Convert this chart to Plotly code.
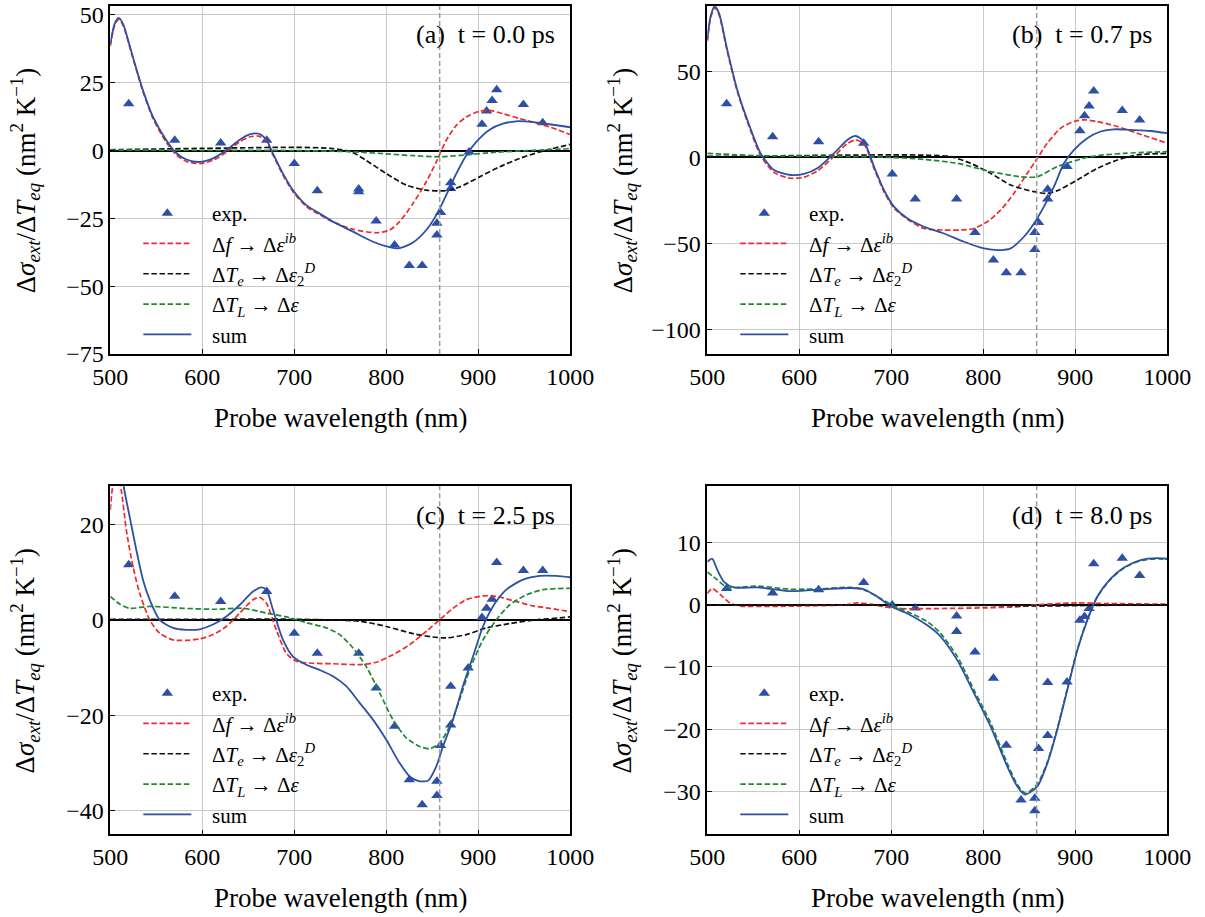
import plotly.graph_objects as go

# ---------------- data ----------------
ref_wavelength = 858

# Panel (a) t = 0.0 ps
a_exp_x = [520, 570, 620, 670, 700, 725, 770, 770, 789, 809, 825, 839, 855, 855, 859, 870, 870, 890, 904, 909, 915, 920, 949, 970]
a_exp_y = [17.3, 3.8, 2.8, 3.8, -4.8, -14.8, -14.2, -15.2, -26.0, -34.8, -42.4, -42.4, -26.8, -31.1, -22.8, -11.9, -14.0, -0.5, 9.7, 14.6, 18.5, 22.4, 17.0, 10.3]
a_sum_x = [500, 504.7, 509, 513.8, 524.6, 535.5, 546.4, 560.9, 571.7, 582.6, 597.1, 611.6, 626.1, 640.6, 651.4, 661.6, 669.6, 676.8, 687.7, 698.6, 713, 727.5, 742, 763.8, 785.5, 803.6, 814.5, 829, 843.5, 854.3, 865.2, 876.1, 887, 897.8, 912.3, 926.8, 941.3, 959.4, 977.5, 1000]
a_sum_y = [39.3, 46.7, 48.9, 46.7, 34.4, 22.2, 12.4, 3.8, -0.9, -3.3, -4.2, -2.9, 0.1, 4.0, 6.0, 6.2, 4.0, -1.1, -8.5, -14.6, -20.1, -23.2, -26.2, -29.9, -33.6, -35.6, -36.0, -33.9, -29.3, -23.8, -16.4, -8.5, -1.7, 3.2, 7.7, 9.9, 10.8, 10.5, 9.7, 8.6]
a_red_x = [500, 504.7, 509, 513.8, 524.6, 535.5, 546.4, 560.9, 571.7, 582.6, 597.1, 611.6, 626.1, 640.6, 651.4, 661.6, 669.6, 676.8, 687.7, 698.6, 713, 727.5, 742, 763.8, 789, 803.6, 814.5, 829, 843.5, 854.3, 865.2, 876.1, 887, 901.4, 912.3, 926.8, 944.9, 959.4, 977.5, 1000]
a_red_y = [38.5, 46.2, 48.4, 46.2, 34.0, 21.8, 11.8, 3.0, -1.6, -4.0, -4.8, -3.6, -0.6, 3.2, 5.0, 5.3, 3.4, -1.6, -9.0, -15.2, -20.6, -23.6, -26.3, -29.0, -30.3, -29.3, -26.2, -19.5, -11.5, -4.2, 3.8, 9.3, 12.4, 14.5, 14.8, 13.6, 11.8, 10.5, 8.7, 5.9]
a_blk_x = [500, 600, 700, 740, 762, 778, 800, 821.7, 843.5, 865.2, 879.7, 901.4, 923.2, 944.9, 966.7, 1000]
a_blk_y = [0.3, 0.8, 1.2, 0.8, -0.5, -3.6, -8.5, -12.7, -14.6, -14.8, -13.4, -9.7, -6.0, -2.9, -0.5, 2.3]
a_grn_x = [500, 600, 700, 760, 800, 830, 858, 880, 920, 960, 1000]
a_grn_y = [0.2, 0.1, 0.0, -0.4, -1.2, -1.9, -2.3, -1.8, -0.6, 0.1, 0.7]

# Panel (b) t = 0.7 ps
b_exp_x = [521, 571, 621, 670, 701, 726, 771, 791, 811, 825, 841, 856, 856, 860, 870, 870, 891, 905, 910, 915, 920, 951, 970]
b_exp_y = [31.1, 12.0, 9.1, 8.2, -9.7, -24.3, -24.3, -43.7, -59.8, -67.2, -67.2, -43.7, -53.6, -37.9, -24.3, -18.6, -5.4, 15.5, 24.1, 29.9, 38.6, 27.2, 21.7]
b_sum_x = [500, 503.6, 508, 512.7, 521.7, 532.6, 543.5, 558, 572.5, 590.6, 605.1, 619.6, 637.7, 652.2, 661.2, 670.3, 681.2, 692, 702.9, 717.4, 735.5, 757.2, 779, 800.7, 818.8, 829.7, 844.2, 855.1, 865.9, 876.8, 887.7, 898.6, 913, 927.5, 942, 960.1, 981.9, 1000]
b_sum_y = [68.4, 82.0, 87.8, 83.9, 62.5, 39.2, 21.8, 2.3, -7.4, -10.3, -9.7, -6.4, 2.3, 10.1, 12.4, 9.1, -5.4, -19.0, -28.7, -35.5, -40.4, -44.3, -49.1, -53.0, -54.0, -53.0, -46.2, -38.5, -28.7, -17.1, -3.5, 4.3, 11.1, 15.0, 16.3, 15.9, 15.3, 14.0]
b_red_x = [500, 503.6, 508, 512.7, 521.7, 532.6, 543.5, 558, 572.5, 590.6, 605.1, 619.6, 637.7, 652.2, 661.2, 670.3, 681.2, 692, 702.9, 717.4, 735.5, 757.2, 775.4, 789.9, 804.3, 818.8, 833.3, 847.8, 858.7, 869.6, 884, 898.6, 909.4, 923.9, 945.7, 967.4, 1000]
b_red_y = [67.5, 81.0, 87.0, 83.0, 61.5, 38.2, 20.8, 1.0, -8.8, -12.2, -11.5, -8.0, 0.5, 8.0, 10.1, 7.8, -6.5, -20.0, -29.5, -36.0, -41.4, -42.3, -42.3, -41.4, -37.5, -30.7, -21.0, -9.3, -0.6, 8.2, 16.9, 20.8, 21.8, 20.8, 17.9, 14.0, 8.2]
b_blk_x = [500, 600, 700, 740, 764.5, 786.2, 808, 829.7, 855.1, 869.6, 880.4, 902.2, 923.9, 945.7, 967.4, 1000]
b_blk_y = [0.5, 1.0, 1.4, 1.2, 0.4, -3.5, -9.3, -16.1, -20.0, -21.0, -19.4, -13.2, -6.4, -1.6, 1.4, 2.3]
b_grn_x = [500, 554, 663, 700, 735.5, 771.7, 808, 840.6, 858.7, 880.4, 916.7, 952.9, 1000]
b_grn_y = [2.3, 1.0, 0.4, -0.1, -1.2, -3.5, -8.3, -11.3, -11.3, -5.4, 0.4, 2.3, 3.3]

# Panel (c) t = 2.5 ps
c_exp_x = [520, 570, 620, 670, 700, 725, 770, 789, 809, 825, 839, 855, 855, 859, 870, 870, 889, 904, 909, 915, 920, 949, 970]
c_exp_y = [11.5, 4.9, 3.8, 5.9, -2.8, -7.0, -7.0, -14.3, -22.3, -33.5, -38.7, -33.8, -36.8, -26.3, -22.0, -13.9, -10.1, 0.5, 2.4, 4.3, 12.0, 10.3, 10.3]
c_sum_x = [500, 505, 510, 514.5, 521, 528.3, 535.5, 542.8, 553.6, 568.1, 582.6, 597.1, 611.6, 626.1, 640.6, 655.1, 664.1, 669.6, 676.8, 687.7, 698.6, 713, 727.5, 742, 756.5, 771, 785.5, 800, 814.5, 825.4, 834.4, 845.3, 854.3, 861.6, 872.5, 883.3, 894.2, 905.1, 915.9, 930.4, 948.6, 966.7, 984.8, 1000]
c_sum_y = [30, 36, 35, 28, 21.6, 14.6, 8.4, 4.2, 0, -1.7, -2.1, -2.0, -1.0, 0.7, 3.1, 5.9, 6.8, 6.3, 2.1, -4.2, -7.7, -9.4, -10.5, -11.8, -13.9, -17.4, -20.9, -25.1, -30.0, -32.8, -33.7, -33.7, -30.7, -26.5, -20.9, -13.9, -7.7, -1.4, 2.8, 6.3, 8.4, 9.2, 9.2, 8.9]
c_red_x = [500, 503, 507, 512, 517.4, 524.6, 531.9, 542.8, 553.6, 568.1, 582.6, 597.1, 611.6, 626.1, 640.6, 655.1, 662.3, 669.6, 680.4, 691.3, 702.2, 720.3, 742, 771, 789, 807.2, 825.4, 843.5, 858, 872.5, 887, 905.1, 919.6, 937.7, 959.4, 977.5, 1000]
c_red_y = [23, 28.5, 31, 27, 18.8, 11.2, 5.6, 0, -2.8, -4.2, -4.3, -4.0, -3.1, -1.4, 1.4, 4.2, 4.7, 3.5, -2.1, -7.0, -8.7, -9.1, -9.2, -9.4, -8.9, -7.3, -5.2, -2.4, 0, 2.4, 4.2, 5.0, 4.9, 4.0, 2.9, 2.4, 1.7]
c_blk_x = [500, 600, 700, 771, 800, 829, 850.7, 865.2, 887, 908.7, 934, 959.4, 1000]
c_blk_y = [0.1, 0.1, 0.1, -0.3, -1.4, -2.9, -3.6, -3.8, -3.1, -1.7, -0.8, -0.1, 0.6]
c_grn_x = [500, 510.1, 521, 542.8, 579, 615.2, 644.2, 669.6, 691.3, 713, 734.8, 749.3, 763.8, 778.3, 792.8, 807.2, 821.7, 836.2, 847.1, 858, 868.8, 879.7, 890.6, 905.1, 919.6, 934, 952.2, 970.3, 1000]
c_grn_y = [4.9, 3.3, 2.4, 2.8, 2.4, 2.2, 2.4, 1.4, 0.6, -0.6, -1.7, -3.1, -5.9, -9.8, -15.3, -20.9, -24.7, -26.5, -27.0, -25.8, -22.3, -16.7, -10.5, -4.2, 0, 3.1, 5.2, 6.3, 6.6]

# Panel (d) t = 8.0 ps
d_exp_x = [521, 571, 621, 670, 701, 726, 771, 771, 791, 811, 825, 841, 856, 856, 860, 870, 870, 891, 905, 910, 915, 920, 951, 970]
d_exp_y = [2.6, 1.9, 2.4, 3.6, -0.05, -0.5, -1.8, -4.3, -7.6, -11.8, -22.6, -31.4, -31.1, -33.1, -23.1, -21.0, -12.5, -12.4, -2.5, -1.9, -0.6, 6.6, 7.5, 4.7]
d_sum_x = [500, 505.4, 510.9, 518.1, 529, 554.3, 590.6, 626.8, 655.8, 670.3, 684.8, 699.3, 717.4, 739.1, 753.6, 771.7, 789.9, 808, 826.1, 837, 845.3, 858.7, 869.6, 880.4, 891.3, 902.2, 913, 923.9, 938.4, 952.9, 971, 989.1, 1000]
d_sum_y = [6.9, 7.4, 5.6, 3.7, 2.8, 2.8, 2.2, 2.5, 2.7, 2.5, 1.3, -0.2, -1.4, -3.3, -5.1, -8.9, -14.2, -19.6, -26.0, -29.2, -30.5, -29.2, -25.5, -20.1, -13.7, -7.3, -2.5, 1.3, 4.2, 6.0, 7.2, 7.5, 7.4]
d_red_x = [500, 505.4, 514.5, 525.4, 536.2, 600, 650, 663, 677.5, 692, 706.5, 750, 800, 840, 858, 880, 902, 935, 1000]
d_red_y = [1.8, 2.6, 1.6, 0.2, -0.2, -0.2, 0.0, 0.3, 0.1, -0.3, -0.6, -0.6, -0.5, -0.3, 0.0, 0.2, 0.3, 0.2, 0.1]
d_blk_x = [500, 700, 800, 860, 920, 1000]
d_blk_y = [0.0, -0.05, -0.1, -0.2, -0.1, 0.0]
d_grn_x = [500, 510.9, 521.7, 554.3, 590.6, 626.8, 655.8, 670.3, 684.8, 699.3, 717.4, 739.1, 753.6, 771.7, 789.9, 808, 826.1, 837, 846, 858.7, 869.6, 880.4, 891.3, 902.2, 913, 923.9, 938.4, 952.9, 971, 989.1, 1000]
d_grn_y = [5.3, 4.0, 2.8, 3.0, 2.5, 2.6, 2.8, 2.4, 1.3, 0.1, -1.1, -2.7, -4.6, -8.3, -13.7, -19.0, -25.5, -28.9, -30.3, -28.8, -25.3, -19.9, -13.5, -7.2, -2.4, 1.3, 4.1, 5.9, 7.1, 7.4, 7.3]

panel_labels = ["(a)\u00a0\u00a0t = 0.0 ps", "(b)\u00a0\u00a0t = 0.7 ps", "(c)\u00a0\u00a0t = 2.5 ps", "(d)\u00a0\u00a0t = 8.0 ps"]
y_ranges = [[-75, 53.3], [-114.4, 88], [-44.9, 28], [-36.9, 19.1]]
y_dticks = [25, 50, 20, 10]
x_ticks = [500, 600, 700, 800, 900, 1000]

PAD = "\u00a0\u00a0\u00a0"
series_names = [PAD + "exp.",
                PAD + "Δ<i>f</i> → Δ<i>ε<sup>ib</sup></i>",
                PAD + "Δ<i>T<sub>e</sub></i> → Δ<i>ε</i><sub>2</sub><sup><i>D</i></sup>",
                PAD + "Δ<i>T<sub>L</sub></i> → Δ<i>ε</i>",
                PAD + "sum"]
x_title = "Probe wavelength (nm)"
y_title = "Δ<i>σ<sub>ext</sub></i>/Δ<i>T<sub>eq</sub></i> (nm<sup>2</sup> K<sup>−1</sup>)"

panels = [
    (a_exp_x, a_exp_y, a_red_x, a_red_y, a_blk_x, a_blk_y, a_grn_x, a_grn_y, a_sum_x, a_sum_y),
    (b_exp_x, b_exp_y, b_red_x, b_red_y, b_blk_x, b_blk_y, b_grn_x, b_grn_y, b_sum_x, b_sum_y),
    (c_exp_x, c_exp_y, c_red_x, c_red_y, c_blk_x, c_blk_y, c_grn_x, c_grn_y, c_sum_x, c_sum_y),
    (d_exp_x, d_exp_y, d_red_x, d_red_y, d_blk_x, d_blk_y, d_grn_x, d_grn_y, d_sum_x, d_sum_y),
]

# ---------------- style ----------------
W, H = 1205, 917
FONT = "Liberation Serif"
BLUE = "#2d4fa5"
RED = "#f02a2a"
BLACK = "#111111"
GREEN = "#1c8a32"
DASH = "5.5px,2.6px"

# pixel boxes of the panels (left, right, top, bottom)
boxes = [(110.3, 570.3, 6, 354), (707.3, 1167.3, 6, 354),
         (110.3, 570.3, 486, 834.3), (707.3, 1167.3, 486, 834.3)]

fig = go.Figure()
layout = dict(width=W, height=H, margin=dict(l=0, r=0, t=0, b=0),
              paper_bgcolor="white", plot_bgcolor="white", showlegend=True)

annotations = []
shapes = []
for i, (ex, ey, rx, ry, kx, ky, gx, gy, sx, sy) in enumerate(panels):
    n = "" if i == 0 else str(i + 1)
    xa, ya = "x" + n, "y" + n
    leg = "legend" + n
    common = dict(xaxis=xa, yaxis=ya, legend=leg)
    fig.add_trace(go.Scatter(x=ex, y=ey, mode="markers", name=series_names[0],
                             marker=dict(symbol="triangle-up", size=10, color=BLUE), **common))
    fig.add_trace(go.Scatter(x=rx, y=ry, mode="lines", name=series_names[1],
                             line=dict(color=RED, width=1.7, dash=DASH, shape="spline", smoothing=0.7), **common))
    fig.add_trace(go.Scatter(x=kx, y=ky, mode="lines", name=series_names[2],
                             line=dict(color=BLACK, width=1.7, dash=DASH, shape="spline", smoothing=0.7), **common))
    fig.add_trace(go.Scatter(x=gx, y=gy, mode="lines", name=series_names[3],
                             line=dict(color=GREEN, width=1.7, dash=DASH, shape="spline", smoothing=0.7), **common))
    fig.add_trace(go.Scatter(x=sx, y=sy, mode="lines", name=series_names[4],
                             line=dict(color=BLUE, width=1.8, shape="spline", smoothing=0.7), **common))

    L, R, T, B = boxes[i]
    xd = [L / W, R / W]
    yd = [1 - B / H, 1 - T / H]
    layout["xaxis" + n] = dict(domain=xd, anchor=ya, range=[500, 1000], tickvals=x_ticks, automargin=False,
                              showline=True, mirror=True, linecolor="black", linewidth=1.6,
                              ticks="inside", ticklen=5, tickwidth=1.3, tickcolor="black",
                              showgrid=True, gridcolor="#c9c9c9", gridwidth=1, zeroline=False,
                              tickfont=dict(size=24, family=FONT, color="black"))
    layout["yaxis" + n] = dict(domain=yd, anchor=xa, range=y_ranges[i], dtick=y_dticks[i], tick0=0,
                              automargin=False,
                              showline=True, mirror=True, linecolor="black", linewidth=1.6,
                              ticks="inside", ticklen=5, tickwidth=1.3, tickcolor="black",
                              showgrid=True, gridcolor="#c9c9c9", gridwidth=1,
                              zeroline=True, zerolinecolor="black", zerolinewidth=1.6,
                              tickfont=dict(size=24, family=FONT, color="black"))
    layout[leg] = dict(x=(L + 28) / W, y=1 - (T + 187) / H, xanchor="left", yanchor="top",
                       bgcolor="rgba(0,0,0,0)", font=dict(size=21, family=FONT, color="black"),
                       itemwidth=48, tracegroupgap=0)
    shapes.append(dict(type="line", xref=xa, yref=ya + " domain", x0=ref_wavelength, x1=ref_wavelength,
                       y0=0, y1=1, line=dict(color="#9a9a9a", width=1.5, dash="5px,3px")))
    annotations.append(dict(text=panel_labels[i], xref="paper", yref="paper",
                            x=(R - 13) / W, y=1 - (T + 29) / H, xanchor="right", yanchor="middle",
                            showarrow=False, font=dict(size=26, family=FONT, color="black")))
    annotations.append(dict(text=x_title, xref="paper", yref="paper",
                            x=(L + R) / 2 / W, y=1 - (B + 64) / H, xanchor="center", yanchor="middle",
                            showarrow=False, font=dict(size=27, family=FONT, color="black")))
    annotations.append(dict(text=y_title, xref="paper", yref="paper", textangle=-90,
                            x=(L - 85) / W, y=1 - (T + B) / 2 / H, xanchor="center", yanchor="middle",
                            showarrow=False, font=dict(size=27, family=FONT, color="black")))

layout["annotations"] = annotations
layout["shapes"] = shapes
fig.update_layout(**layout)
fig.write_html("out.html", config={"displayModeBar": False},
               post_script="document.body.style.margin='0px';")
